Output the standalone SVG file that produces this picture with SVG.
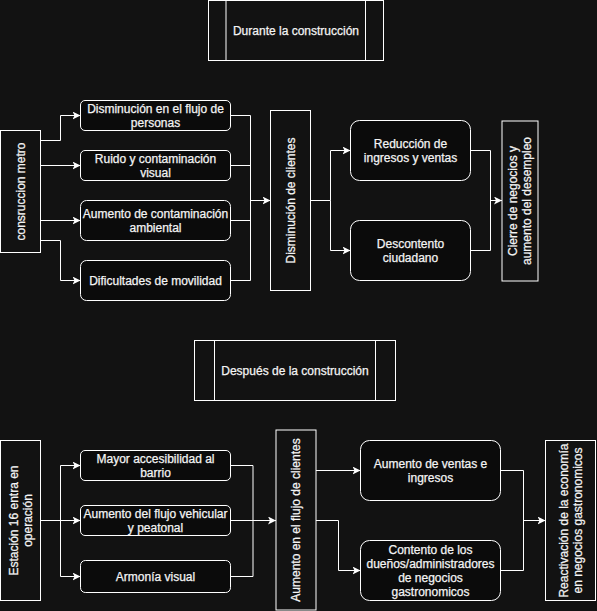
<svg xmlns="http://www.w3.org/2000/svg" width="597" height="611" viewBox="0 0 597 611">
<style>
.bg{fill:#121212}
.box{fill:#121212;stroke:#ffffff;stroke-width:1}
.rbox{fill:#0b0b0b;stroke:#ffffff;stroke-width:1}
.gbox{fill:#121212;stroke:#ffffff;stroke-width:1}
text{font-family:"Liberation Sans",Arial,Helvetica,sans-serif;font-size:12px;fill:#f4f4f4;stroke:#f4f4f4;stroke-width:0.25;text-anchor:middle}
.edge{fill:none;stroke:#ffffff;stroke-width:1}
.arr{marker-end:url(#ah)}
</style>
<defs>
<marker id="ah" markerUnits="userSpaceOnUse" markerWidth="10" markerHeight="10" refX="8" refY="4" orient="auto">
<path d="M0,0 L8,4 L0,8 L2,4 Z" fill="#ffffff"/>
</marker>
</defs>
<rect class="bg" x="0" y="0" width="597" height="611"/>

<g id="title-durante">
<rect class="box" x="208.5" y="0.5" width="175" height="60"/>
<line class="edge" x1="226" y1="0.5" x2="226" y2="60.5"/>
<line class="edge" x1="365.5" y1="0.5" x2="365.5" y2="60.5"/>
<text x="296" y="34.5">Durante la construcción</text>
</g>

<g id="construccion-metro">
<rect class="box" x="0.5" y="130.5" width="40" height="122"/>
<text transform="translate(20.5 191.5) rotate(-90)" y="4">consruccion metro</text>
</g>

<g id="disminucion-flujo">
<rect class="rbox" x="80.5" y="100.5" width="150" height="30" rx="4.5"/>
<text x="155.5" y="112.5">Disminución en el flujo de</text>
<text x="155.5" y="126.5">personas</text>
</g>
<g id="ruido">
<rect class="rbox" x="80.5" y="150.5" width="150" height="30" rx="4.5"/>
<text x="155.5" y="162.5">Ruido y contaminación</text>
<text x="155.5" y="176.5">visual</text>
</g>
<g id="aumento-contaminacion">
<rect class="rbox" x="80.5" y="200.5" width="150" height="40" rx="6"/>
<text x="155.5" y="217.5">Aumento de contaminación</text>
<text x="155.5" y="231.5">ambiental</text>
</g>
<g id="dificultades">
<rect class="rbox" x="80.5" y="260.5" width="150" height="40" rx="6"/>
<text x="155.5" y="284.5">Dificultades de movilidad</text>
</g>

<g id="disminucion-clientes">
<rect class="box" x="270.5" y="110.5" width="40" height="180"/>
<text transform="translate(290.5 200.5) rotate(-90)" y="4">Disminución de clientes</text>
</g>

<g id="reduccion">
<rect class="rbox" x="350.5" y="120.5" width="120" height="60" rx="9"/>
<text x="410.5" y="147.5">Reducción de</text>
<text x="410.5" y="161.5">ingresos y ventas</text>
</g>
<g id="descontento">
<rect class="rbox" x="350.5" y="220.5" width="120" height="60" rx="9"/>
<text x="410.5" y="247.5">Descontento</text>
<text x="410.5" y="261.5">ciudadano</text>
</g>

<g id="cierre">
<rect class="gbox" x="502" y="121" width="36" height="160"/>
<text transform="translate(520 201) rotate(-90)" y="-3">Cierre de negocios y</text>
<text transform="translate(520 201) rotate(-90)" y="11">aumento del desempleo</text>
</g>

<g id="title-despues">
<rect class="box" x="194.5" y="340.5" width="201" height="60"/>
<line class="edge" x1="214.5" y1="340.5" x2="214.5" y2="400.5"/>
<line class="edge" x1="375.5" y1="340.5" x2="375.5" y2="400.5"/>
<text x="295" y="374.5">Después de la construcción</text>
</g>

<g id="estacion16">
<rect class="box" x="0.5" y="440.5" width="40" height="160"/>
<text transform="translate(20.5 520.5) rotate(-90)" y="-3">Estación 16 entra en</text>
<text transform="translate(20.5 520.5) rotate(-90)" y="11">operación</text>
</g>

<g id="mayor-accesibilidad">
<rect class="rbox" x="80.5" y="450.5" width="150" height="30" rx="4.5"/>
<text x="155.5" y="462.5">Mayor accesibilidad al</text>
<text x="155.5" y="476.5">barrio</text>
</g>
<g id="aumento-flujo-vehicular">
<rect class="rbox" x="80.5" y="505.5" width="150" height="30" rx="4.5"/>
<text x="155.5" y="517.5">Aumento del flujo vehicular</text>
<text x="155.5" y="531.5">y peatonal</text>
</g>
<g id="armonia">
<rect class="rbox" x="80.5" y="560.5" width="150" height="32" rx="4.8"/>
<text x="155.5" y="580.5">Armonía visual</text>
</g>

<g id="aumento-flujo-clientes">
<rect class="gbox" x="276" y="430" width="40" height="180"/>
<text transform="translate(296 520) rotate(-90)" y="4">Aumento en el flujo de clientes</text>
</g>

<g id="aumento-ventas">
<rect class="rbox" x="360.5" y="440.5" width="140" height="60" rx="9"/>
<text x="430.5" y="467.5">Aumento de ventas e</text>
<text x="430.5" y="481.5">ingresos</text>
</g>
<g id="contento">
<rect class="rbox" x="360.5" y="540.5" width="140" height="60" rx="9"/>
<text x="430.5" y="553.5">Contento de los</text>
<text x="430.5" y="567.5">dueños/administradores</text>
<text x="430.5" y="581.5">de negocios</text>
<text x="430.5" y="595.5">gastronomicos</text>
</g>

<g id="reactivacion">
<rect class="box" x="545.5" y="440.5" width="50" height="160"/>
<text transform="translate(570.5 520.5) rotate(-90)" y="-3">Reactivación de la economía</text>
<text transform="translate(570.5 520.5) rotate(-90)" y="11">en negocios gastronomicos</text>
</g>

<g id="connectors">
<path class="edge arr" d="M40.5,140.5 H60.5 V115.5 H80.5"/>
<path class="edge arr" d="M40.5,165.5 H80.5"/>
<path class="edge arr" d="M40.5,220.5 H80.5"/>
<path class="edge arr" d="M40.5,240.5 H60.5 V280.5 H80.5"/>
<path class="edge" d="M230.5,115.5 H250.5 V280.5 H230.5 M230.5,165.5 H250.5 M230.5,220.5 H250.5"/>
<path class="edge arr" d="M250.5,200.5 H270.5"/>
<path class="edge arr" d="M310.5,200.5 H330.5 V150.5 H350.5"/>
<path class="edge arr" d="M330.5,200.5 V250.5 H350.5"/>
<path class="edge" d="M470.5,150.5 H490.5 V250.5 H470.5"/>
<path class="edge arr" d="M490.5,200.5 H502"/>
<path class="edge arr" d="M40.5,520.5 H60.5 V465.5 H80.5"/>
<path class="edge arr" d="M40.5,520.5 H80.5"/>
<path class="edge arr" d="M60.5,520.5 V576.5 H80.5"/>
<path class="edge" d="M230.5,465.5 H253 V576.5 H230.5 M230.5,520.5 H253"/>
<path class="edge arr" d="M253,520.5 H276"/>
<path class="edge arr" d="M316,470.5 H360.5"/>
<path class="edge arr" d="M316,520.5 H338.5 V570.5 H360.5"/>
<path class="edge" d="M500.5,470.5 H523.5 V570.5 H500.5"/>
<path class="edge arr" d="M523.5,520.5 H545.5"/>
</g>
</svg>
